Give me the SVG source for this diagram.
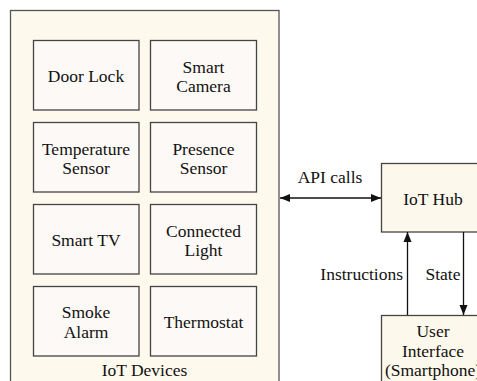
<svg xmlns="http://www.w3.org/2000/svg" width="477" height="381" viewBox="0 0 477 381" font-family="'Liberation Serif', 'DejaVu Serif', serif">
<style>
.c{fill:#fef9ed;stroke:#555;stroke-width:1.3}
.b{fill:#fdf9f6;stroke:#444;stroke-width:1.3}
.h{fill:#fdf8ec;stroke:#444;stroke-width:1.3}
text{font-family:'Liberation Serif','DejaVu Serif',serif;font-size:17.5px;fill:#111;text-anchor:middle}
.e{stroke:#111;stroke-width:1.3;fill:none}
</style>
<defs>
<marker id="a" viewBox="0 0 10 10" refX="10" refY="5" markerWidth="10" markerHeight="10" markerUnits="userSpaceOnUse" orient="auto-start-reverse"><path d="M0,1 L10,5 L0,9 Z" fill="#111"/></marker>
</defs>
<g id="iot-devices">
<rect class="c" x="10.5" y="10.5" width="268.5" height="380"/>
<text x="144.5" y="375.5">IoT Devices</text>
</g>
<g id="door-lock"><rect class="b" x="33.5" y="40.5" width="105.5" height="69.5"/><text x="86" y="82">Door Lock</text></g>
<g id="smart-camera"><rect class="b" x="150.5" y="40.5" width="106" height="69.5"/><text x="203.5" y="72.5">Smart</text><text x="203.5" y="92">Camera</text></g>
<g id="temperature-sensor"><rect class="b" x="33.5" y="122.5" width="105.5" height="69.5"/><text x="86" y="154.5">Temperature</text><text x="86" y="174">Sensor</text></g>
<g id="presence-sensor"><rect class="b" x="150.5" y="122.5" width="106" height="69.5"/><text x="203.5" y="154.5">Presence</text><text x="203.5" y="174">Sensor</text></g>
<g id="smart-tv"><rect class="b" x="33.5" y="204.5" width="105.5" height="69.5"/><text x="86" y="245.5">Smart TV</text></g>
<g id="connected-light"><rect class="b" x="150.5" y="204.5" width="106" height="69.5"/><text x="203.5" y="236.5">Connected</text><text x="203.5" y="256">Light</text></g>
<g id="smoke-alarm"><rect class="b" x="33.5" y="286.5" width="105.5" height="69.5"/><text x="86" y="318">Smoke</text><text x="86" y="337.5">Alarm</text></g>
<g id="thermostat"><rect class="b" x="150.5" y="286.5" width="106" height="69.5"/><text x="203.5" y="327.5">Thermostat</text></g>
<g id="iot-hub"><rect class="h" x="381.5" y="163.5" width="104" height="68.5"/><text x="433" y="204.5">IoT Hub</text></g>
<g id="user-interface"><rect class="h" x="381.5" y="315.5" width="104" height="80"/><text x="433" y="337">User</text><text x="433" y="356.5">Interface</text><text x="433" y="376">(Smartphone)</text></g>
<g id="connectors">
<line class="e" x1="280" y1="198" x2="381" y2="198" marker-start="url(#a)" marker-end="url(#a)"/>
<text x="330" y="182.5">API calls</text>
<line class="e" x1="407.5" y1="315" x2="407.5" y2="232" marker-end="url(#a)"/>
<text x="403" y="279.5" style="text-anchor:end">Instructions</text>
<line class="e" x1="463.5" y1="232" x2="463.5" y2="315" marker-end="url(#a)"/>
<text x="443" y="279.5">State</text>
</g>
</svg>
